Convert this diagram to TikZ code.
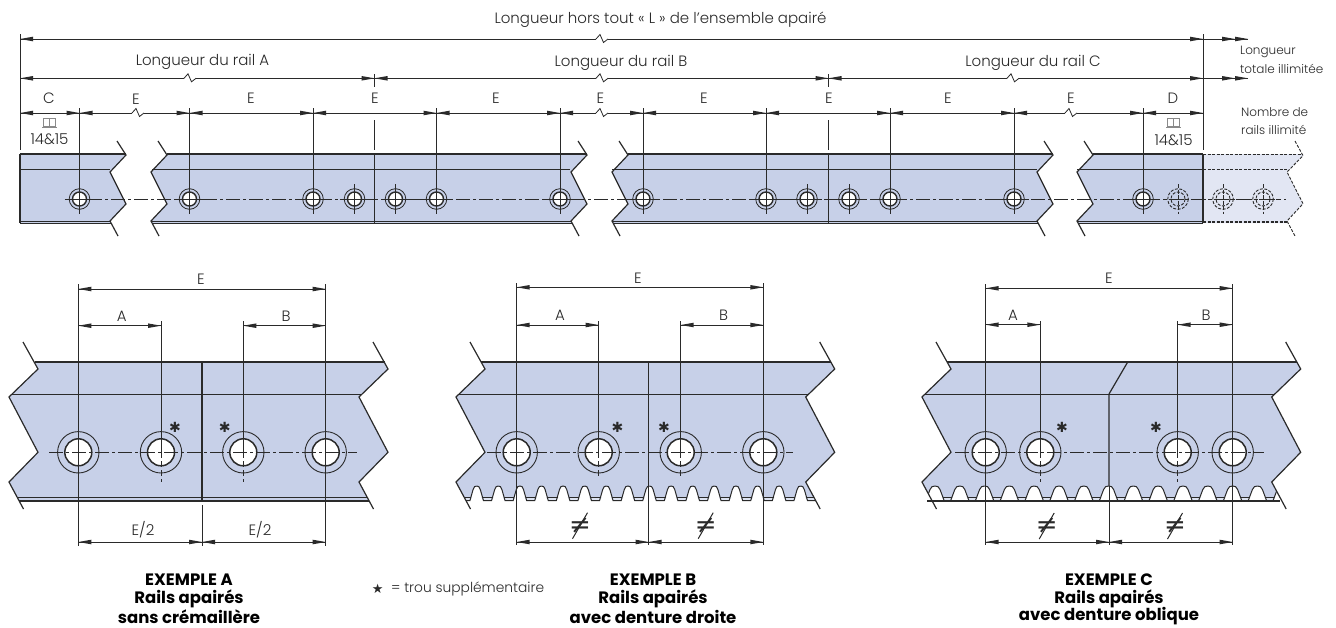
\documentclass[tikz,border=0pt]{standalone}
\usepackage{fontspec}
\setmainfont{Poppins Light}[BoldFont=Poppins Bold]
\newfontfamily\djfont{DejaVu Sans}
\usetikzlibrary{arrows.meta}
\definecolor{railblue}{HTML}{C7D0E8}
\definecolor{ghostblue}{HTML}{E2E6F3}
\definecolor{tipblue}{HTML}{DDE3F1}
\definecolor{ink}{HTML}{2A2A2A}
\definecolor{bookgray}{HTML}{8A8A8A}
\tikzset{
  dimline/.style={draw=ink,line width=0.8pt},
  railedge/.style={draw=ink,line width=1.2pt,line join=miter},
  thinedge/.style={draw=ink,line width=1pt},
  axisline/.style={draw=ink,line width=0.8pt,dash pattern=on 14pt off 3pt on 3pt off 3pt},
  ghostline/.style={draw=ink,line width=0.9pt,dash pattern=on 3pt off 1.5pt},
  lbl/.style={inner sep=0pt,text=ink,font=\fontsize{15}{17}\selectfont},
  midtxt/.style={inner sep=0pt,text=ink,font=\fontsize{12}{14}\selectfont},
  legtxt/.style={inner sep=0pt,text=ink,font=\fontsize{13.8}{16}\selectfont},
  capt/.style={inner sep=0pt,text=black,font=\bfseries\fontsize{16.5}{19}\selectfont},
  stars/.style={inner sep=0pt,text=ink,font=\djfont\fontsize{14}{16}\selectfont},
  noteq/.style={inner sep=0pt,text=ink,font=\djfont\fontsize{26}{28}\selectfont}
}
\newcommand{\aR}[2]{\fill[ink] (#1,#2) -- ({#1-13},{#2-2.3}) -- ({#1-13},{#2+2.3}) -- cycle;}
\newcommand{\aL}[2]{\fill[ink] (#1,#2) -- ({#1+13},{#2-2.3}) -- ({#1+13},{#2+2.3}) -- cycle;}
\newcommand{\brk}[2]{\draw[white,line width=2pt] ({#1-6},#2) -- ({#1+6},#2);
  \draw[dimline] ({#1-6},#2) -- ({#1-2},{#2-4.5}) -- ({#1+1.5},{#2+3.5}) -- ({#1+6},#2);}
\newcommand{\holeS}[2]{\draw[ink,line width=0.8pt] (#1,#2) circle (10.3);
  \draw[ink,fill=white,line width=1.4pt] (#1,#2) circle (7);
  \draw[dimline] (#1,{#2-15}) -- (#1,{#2+15}) ({#1-15},#2) -- ({#1+15},#2);}
\newcommand{\holeD}[2]{\draw[ghostline] (#1,#2) circle (10.3) (#1,#2) circle (7);
  \draw[dimline,dash pattern=on 4pt off 1.5pt] (#1,{#2-15}) -- (#1,{#2+15}) ({#1-15},#2) -- ({#1+15},#2);}
\newcommand{\holeL}[1]{\draw[ink,line width=0.9pt] (#1,452.3) circle (20.7);
  \draw[ink,fill=white,line width=1.5pt] (#1,452.3) circle (13.5);}
\newcommand{\zigS}[1]{\draw[railedge] ({#1+7},141) -- ({#1+16},155) -- (#1,172) -- ({#1+16},204) -- (#1,221) -- ({#1+8},236);}
\newcommand{\zigL}[1]{\draw[railedge] ({#1+14},342) -- ({#1+29},369) -- (#1,397) -- ({#1+29},452.3) -- (#1,482) -- ({#1+14.5},509);}
\newcommand{\bookicon}[2]{\draw[bookgray,line width=0.8pt] ({#1-6},{#2-5}) rectangle (#1,{#2+3}) ({#1+6},{#2-5}) rectangle (#1,{#2+3}) ({#1-7.5},{#2+4.5}) -- ({#1+7.5},{#2+4.5});}
% peak x, pitch, tip half-gap, round half-width
\newcommand{\tooth}[4]{%
  \fill[railblue] (#1,485.5) -- (#1,486) .. controls ({#1+#4*0.5},486) and ({#1+#4*0.75},486.6) .. ({#1+#4},489.5) -- ({#1+#3},500.7) -- ({#1+#2-#3},500.7) -- ({#1+#2-#4},489.5) .. controls ({#1+#2-#4*0.75},486.6) and ({#1+#2-#4*0.5},486) .. ({#1+#2},486) -- ({#1+#2},485.5) -- cycle;
  \fill[tipblue] ({#1+#3-2.4},497.3) -- ({#1+#2-#3+2.4},497.3) -- ({#1+#2-#3},500.7) -- ({#1+#3},500.7) -- cycle;
  \draw[thinedge] ({#1+#3-1.2},497.3) -- ({#1+#2-#3+1.2},497.3);
  \draw[thinedge] (#1,486) .. controls ({#1+#4*0.5},486) and ({#1+#4*0.75},486.6) .. ({#1+#4},489.5) -- ({#1+#3},500.7) -- ({#1+#2-#3},500.7) -- ({#1+#2-#4},489.5) .. controls ({#1+#2-#4*0.75},486.6) and ({#1+#2-#4*0.5},486) .. ({#1+#2},486);}
\newcommand{\neqslash}[2]{\draw[ink,line width=1pt] ({#1-7.5},{#2+13}) -- ({#1+7.5},{#2-13});}
\begin{document}
\begin{tikzpicture}[x=1pt,y=-1pt]
\useasboundingbox (0,0) rectangle (1336,627);
\fill[white] (0,0) rectangle (1336,627);
% long rail
\fill[ghostblue] (1203,154) -- (1303,154) -- (1303,155.7) -- (1287,172) -- (1303,203.7) -- (1287,221) -- (1287,223) -- (1203,223) -- cycle;
\fill[railblue] (20,154) -- (126,154) -- (126,155) -- (110,172) -- (126,204) -- (110,221) -- (111,223) -- (20,223) -- cycle;
\fill[railblue] (167,154) -- (587,154) -- (587,155) -- (571,172) -- (587,204) -- (571,221) -- (572,223) -- (152,223) -- (151,221) -- (167,204) -- (151,172) -- (167,155) -- cycle;
\fill[railblue] (628,154) -- (1053,154) -- (1053,155) -- (1037,172) -- (1053,204) -- (1037,221) -- (1038,223) -- (613,223) -- (612,221) -- (628,204) -- (612,172) -- (628,155) -- cycle;
\fill[railblue] (1093,154) -- (1203,154) -- (1203,223) -- (1078,223) -- (1077,221) -- (1093,204) -- (1077,172) -- (1093,155) -- cycle;
\draw[railedge] (20,154) -- (20,223);
\foreach \a/\b in {20/126,167/587,628/1053,1093/1203}{\draw[railedge] (\a,154) -- (\b,154);}
\foreach \a/\b in {20/111,152/572,613/1038,1078/1203}{\draw[thinedge] (\a,221) -- (\b,221) (\a,223) -- (\b,223);}
\foreach \a/\b in {20/110,152/570,612/1037,1077/1203}{\draw[thinedge] (\a,169.7) -- (\b,169.7);}
\zigS{110}\zigS{151}\zigS{571}\zigS{612}\zigS{1037}\zigS{1077}
\draw[railedge] (374.5,154) -- (374.5,223) (828.5,154) -- (828.5,223);
\draw[railedge] (1203,154) -- (1203,223);
\draw[ghostline] (1203,154) -- (1303,154);
\draw[ghostline] (1203,169.7) -- (1288,169.7);
\draw[ghostline] (1203,221) -- (1287,221) (1203,222.8) -- (1287,222.8);
\draw[ghostline] (1295,141) -- (1303,155.7) -- (1287,172) -- (1303,203.7) -- (1287,221) -- (1295,236);
\draw[axisline] (65,199) -- (1286,199);
\foreach \x in {79.5,189.5,313,436.5,560,643,766,890,1014,1143}{\draw[dimline] (\x,108) -- (\x,199);}
\foreach \x in {79.5,189.5,313,354.5,395.5,436.5,560,643,766,807,849,890,1014,1143}{\holeS{\x}{199}}
\holeD{1178}{199}\holeD{1223}{199}\holeD{1263}{199}
% dimensions
\draw[dimline] (20,34) -- (20,150) (1203,34) -- (1203,150);
\draw[dimline] (374.5,74) -- (374.5,87) (828.5,74) -- (828.5,87);
\draw[dimline] (374.5,120) -- (374.5,150) (828.5,120) -- (828.5,150);
\draw[dimline] (20,39) -- (1248,39) (20,78.3) -- (1248,78.3) (20,113) -- (1203,113);
\aL{20}{39}\aR{1203}{39}\aR{1235}{39}\aR{1248}{39}
\aL{20}{78.3}\aR{1203}{78.3}\aR{1235}{78.3}\aR{1248}{78.3}
\aR{374.5}{78.3}\aL{374.5}{78.3}\aR{828.5}{78.3}\aL{828.5}{78.3}
\aL{20}{113}\aR{1203}{113}
\foreach \x in {79.5,189.5,313,436.5,560,643,766,890,1014,1143}{\aR{\x}{113}\aL{\x}{113}}
\brk{602}{39}\brk{190}{78.3}\brk{602}{78.3}\brk{1013}{78.3}\brk{138}{113}\brk{602}{113}\brk{1071}{113}
\node[lbl] (ltot) at (660.5,20) {Longueur hors tout « L » de l’ensemble apairé};
\node[lbl] (lra) at (202.5,62) {Longueur du rail A};
\node[lbl] (lrb) at (621,63) {Longueur du rail B};
\node[lbl] (lrc) at (1033,62.5) {Longueur du rail C};
\node[lbl] (dc) at (49,98) {C};
\node[lbl] (de1) at (136,99) {E};
\node[lbl] (de2) at (251,98) {E};
\node[lbl] (de3) at (375,98) {E};
\node[lbl] (de4) at (496,98) {E};
\node[lbl] (de5) at (600.5,98) {E};
\node[lbl] (de6) at (704,98) {E};
\node[lbl] (de7) at (829,98) {E};
\node[lbl] (de8) at (948,98) {E};
\node[lbl] (de9) at (1071,98) {E};
\node[lbl] (dd) at (1173,98) {D};
\bookicon{49.5}{123}\bookicon{1173.5}{123}
\node[lbl] (p1) at (49.5,139.5) {14\&15};
\node[lbl] (p2) at (1173.5,140.5) {14\&15};
\node[midtxt,anchor=west] (ll1) at (1240,52) {Longueur};
\node[midtxt,anchor=west] (ll2) at (1240,68.5) {totale illimitée};
\node[midtxt,anchor=west] (ln1) at (1241,112) {Nombre de};
\node[midtxt,anchor=west] (ln2) at (1241,130) {rails illimité};
% example A
\fill[railblue] (35,362) -- (385,362) -- (388,369) -- (359,397) -- (388,452.3) -- (359,482) -- (369,501) -- (19,501) -- (9,482) -- (38,452.3) -- (9,397) -- (38,369) -- cycle;
\draw[railedge] (35,362) -- (385,362);
\draw[thinedge] (12,394) -- (362,394);
\draw[thinedge] (17,497) -- (367,497);
\draw[railedge] (19,501) -- (369,501);
\zigL{9}\zigL{359}
\draw[railedge] (202,362) -- (202,501);
\draw[dimline] (202,505) -- (202,546);
\foreach \x in {78.3,325.7}{\draw[dimline] (\x,284) -- (\x,546);}
\foreach \x in {161,243.3}{\draw[dimline] (\x,321) -- (\x,452.3);}
\holeL{78.3}\holeL{161}\holeL{243.3}\holeL{325.7}
\foreach \x in {78.3,325.7}{\draw[dimline] (\x,284) -- (\x,546);}
\foreach \x in {161,243.3}{\draw[dimline] (\x,321) -- (\x,452.3); \draw[axisline,dash pattern=on 6pt off 3pt] (\x,452.3) -- (\x,482);}
\draw[axisline] (49,452.3) -- (357,452.3);
\draw[dimline] (78.3,289) -- (325.7,289) (78.3,325.7) -- (161,325.7) (243.3,325.7) -- (325.7,325.7) (78.3,542) -- (325.7,542);
\aL{78.3}{289}\aR{325.7}{289}\aL{78.3}{325.7}\aR{161}{325.7}\aL{243.3}{325.7}\aR{325.7}{325.7}
\aL{78.3}{542}\aR{202}{542}\aL{202}{542}\aR{325.7}{542}
\node[lbl] (ae) at (201,279) {E};
\node[lbl] (aa) at (121.7,316) {A};
\node[lbl] (ab) at (286,316) {B};
\node[lbl] (ae1) at (143,530) {E/2};
\node[lbl] (ae2) at (260,530) {E/2};
\node[stars] (as1) at (175,427) {✱};
\node[stars] (as2) at (224.7,427) {✱};
\node[capt] (ac1) at (189,580) {EXEMPLE A};
\node[capt] (ac2) at (189,598.5) {Rails apairés};
\node[capt] (ac3) at (189,616.5) {sans crémaillère};
\node[inner sep=0pt,text=ink,font=\djfont\fontsize{13}{15}\selectfont] (lstar) at (377.7,589) {★};
\node[legtxt,anchor=west] (ltxt) at (391,589) {= trou supplémentaire};
% example B
\fill[railblue] (481,362) -- (831,362) -- (834.7,369) -- (805.7,397) -- (834.7,452.3) -- (805.7,482) -- (808,486.3) -- (458,486.3) -- (456,482) -- (485,452.3) -- (456,397) -- (485,369) -- cycle;
\begin{scope}
\clip (456,482) -- (470.5,509) -- (820.2,509) -- (805.7,482) -- cycle;
\foreach \k in {-1,...,15}{\pgfmathsetmacro{\xx}{476.7+21.6*\k}\tooth{\xx}{21.6}{6.8}{3.6}}
\end{scope}
\draw[railedge] (481,362) -- (831,362);
\draw[thinedge] (459,394) -- (809,394);
\zigL{456}\zigL{805.7}
\draw[railedge] (648.7,362) -- (648.7,486);
\draw[dimline] (648.7,486) -- (648.7,545);
\foreach \x in {516.7,763.3}{\draw[dimline] (\x,283) -- (\x,545);}
\foreach \x in {598.7,680.7}{\draw[dimline] (\x,321) -- (\x,452.3);}
\holeL{516.7}\holeL{598.7}\holeL{680.7}\holeL{763.3}
\foreach \x in {516.7,763.3}{\draw[dimline] (\x,283) -- (\x,545);}
\foreach \x in {598.7,680.7}{\draw[dimline] (\x,321) -- (\x,452.3); \draw[axisline,dash pattern=on 6pt off 3pt] (\x,452.3) -- (\x,478);}
\draw[axisline] (487,452.3) -- (793,452.3);
\draw[dimline] (516.7,287.3) -- (763.3,287.3) (516.7,325) -- (598.7,325) (680.7,325) -- (763.3,325) (516.7,542) -- (763.3,542);
\aL{516.7}{287.3}\aR{763.3}{287.3}\aL{516.7}{325}\aR{598.7}{325}\aL{680.7}{325}\aR{763.3}{325}
\aL{516.7}{542}\aR{648.7}{542}\aL{648.7}{542}\aR{763.3}{542}
\node[lbl] (be) at (638,278) {E};
\node[lbl] (ba) at (560,315) {A};
\node[lbl] (bb) at (723.5,315) {B};
\node[noteq] (bn1) at (580,525.7) {≠};
\node[noteq] (bn2) at (705.7,525.7) {≠};
\neqslash{580}{525.7}\neqslash{705.7}{525.7}
\node[stars] (bs1) at (617.5,427) {✱};
\node[stars] (bs2) at (664,427) {✱};
\node[capt] (bc1) at (653,580) {EXEMPLE B};
\node[capt] (bc2) at (653,598.5) {Rails apairés};
\node[capt] (bc3) at (653,616.5) {avec denture droite};
% example C
\fill[railblue] (947,362) -- (1297,362) -- (1300.7,369) -- (1271.7,397) -- (1300.7,452.3) -- (1271.7,482) -- (1274,486.3) -- (924,486.3) -- (922,482) -- (950.7,452.3) -- (922,397) -- (950.7,369) -- cycle;
\begin{scope}
\clip (922,482) -- (936.5,509) -- (1286.2,509) -- (1271.7,482) -- cycle;
\foreach \k in {-1,...,14}{\pgfmathsetmacro{\xx}{935+24.8*\k}\tooth{\xx}{24.8}{9.2}{5}}
\end{scope}
\draw[railedge] (927,501) -- (1280,501);
\draw[railedge] (947,362) -- (1297,362);
\draw[thinedge] (925,394) -- (1275,394);
\zigL{922}\zigL{1271.7}
\draw[railedge] (1109,394) -- (1109,486) (1109,394) -- (1127.7,362);
\draw[dimline] (1109,486) -- (1109,545);
\foreach \x in {985.7,1232.7}{\draw[dimline] (\x,284) -- (\x,545);}
\foreach \x in {1040.3,1177.7}{\draw[dimline] (\x,321) -- (\x,452.3);}
\holeL{985.7}\holeL{1040.3}\holeL{1177.7}\holeL{1232.7}
\foreach \x in {985.7,1232.7}{\draw[dimline] (\x,284) -- (\x,545);}
\foreach \x in {1040.3,1177.7}{\draw[dimline] (\x,321) -- (\x,452.3); \draw[axisline,dash pattern=on 6pt off 3pt] (\x,452.3) -- (\x,482);}
\draw[axisline] (955,452.3) -- (1264,452.3);
\draw[dimline] (985.7,288.3) -- (1232.7,288.3) (985.7,324.7) -- (1040.3,324.7) (1177.7,324.7) -- (1232.7,324.7) (985.7,542) -- (1232.7,542);
\aL{985.7}{288.3}\aR{1232.7}{288.3}\aL{985.7}{324.7}\aR{1040.3}{324.7}\aL{1177.7}{324.7}\aR{1232.7}{324.7}
\aL{985.7}{542}\aR{1109}{542}\aL{1109}{542}\aR{1232.7}{542}
\node[lbl] (ce) at (1109,278) {E};
\node[lbl] (ca) at (1013,315) {A};
\node[lbl] (cb) at (1206,315) {B};
\node[noteq] (cn1) at (1046.7,526) {≠};
\node[noteq] (cn2) at (1175,526) {≠};
\neqslash{1046.7}{526}\neqslash{1175}{526}
\node[stars] (cs1) at (1062,427) {✱};
\node[stars] (cs2) at (1156,427) {✱};
\node[capt] (cc1) at (1109,580) {EXEMPLE C};
\node[capt] (cc2) at (1109,598.5) {Rails apairés};
\node[capt] (cc3) at (1109,616.5) {avec denture oblique};
\end{tikzpicture}
\end{document}
